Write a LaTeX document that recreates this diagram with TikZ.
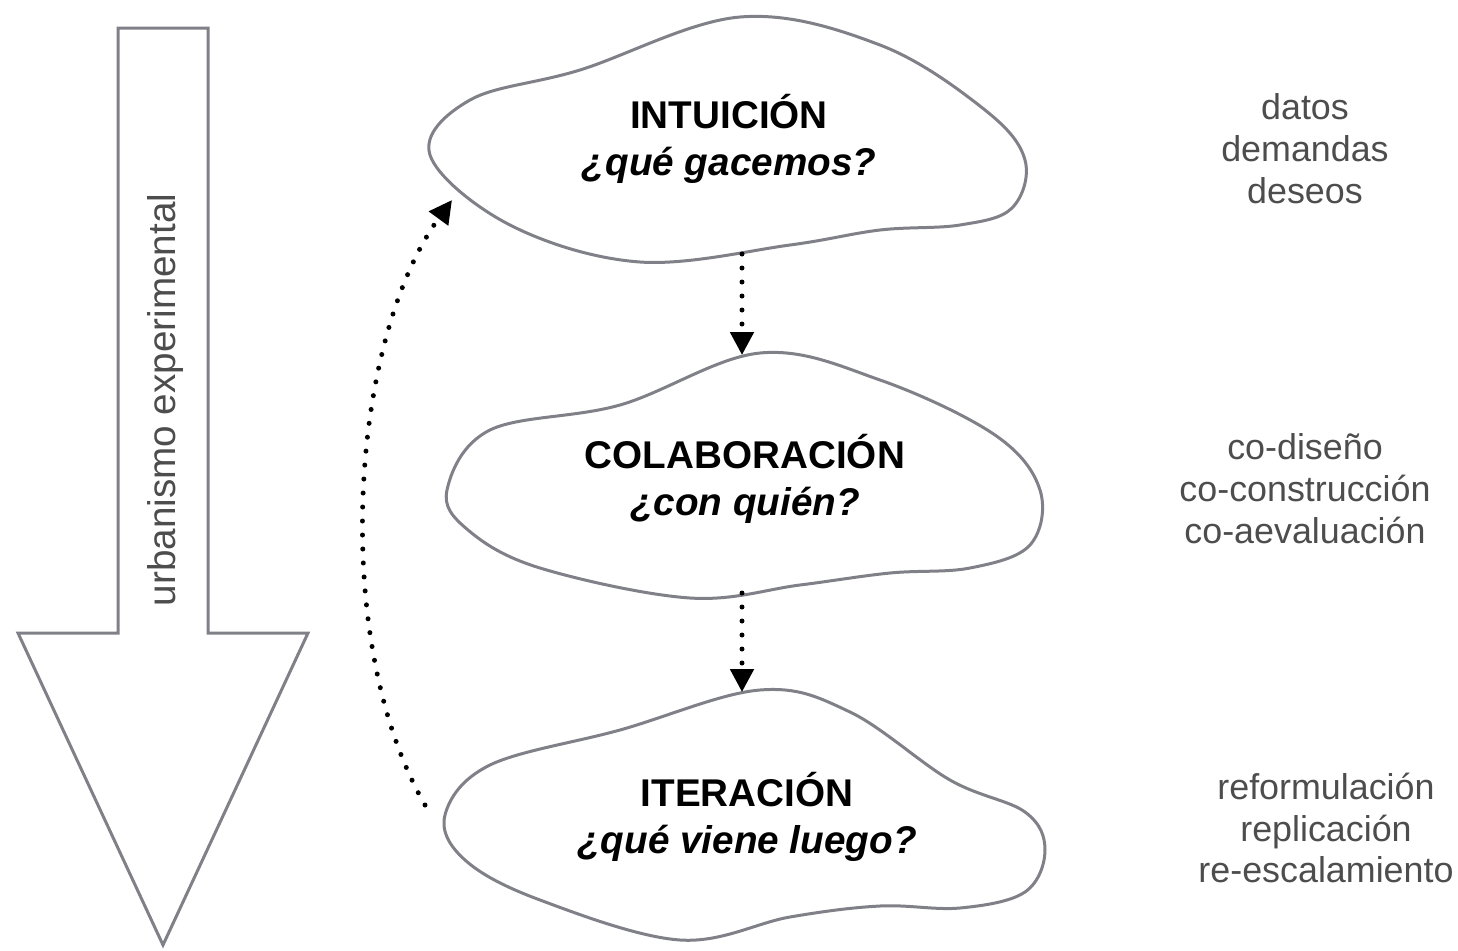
\documentclass[tikz,border=0pt]{standalone}
\usepackage{fontspec}
\setmainfont{Liberation Sans}
\usetikzlibrary{arrows.meta}
\definecolor{linegray}{HTML}{808088}
\definecolor{notegray}{HTML}{4D4D4D}
\tikzset{
cloud/.style={draw=linegray, line width=0.3mm, fill=white}, bigarrow/.style={draw=linegray, line width=0.3mm, fill=white, line join=miter},
stage/.style={align=center, inner sep=0, font=\fontsize{11}{13.4}\selectfont}, note/.style={align=center, inner sep=0, text=notegray, font=\fontsize{10.2}{11.9}\selectfont},
flow/.style={dash pattern=on 0pt off 1.4mm, line cap=round, line width=0.5mm, -{Triangle[length=2.3mm, width=2.3mm]}}}

\begin{document}
\begin{tikzpicture}[x=0.1mm, y=-0.1mm]
\useasboundingbox (0,0) rectangle (1458,951);
\draw [bigarrow] (118,28) -- (208,28) -- (208,633) -- (308,633) -- (163,945) -- (18,633) -- (118,633) -- cycle;
\node [note, rotate=90, font=\fontsize{11}{13}\selectfont] (urbanismo) at (166,400) {urbanismo experimental};
% clouds
\draw [cloud] plot [smooth cycle, tension=0.6] coordinates {(430,155) (470,100) (580,70) (740,17) (880,45) (985,110) (1025,160) (1012,208) (960,225) (880,230) (790,245) (640,262) (510,225)};
\draw [cloud] plot [smooth cycle, tension=0.6] coordinates {(447,490) (490,430) (620,405) (760,353) (880,380) (995,435) (1040,490) (1030,545) (970,568) (890,573) (800,585) (690,598) (540,568) (468,530)};
\draw [cloud] plot [smooth cycle, tension=0.6] coordinates {(445,815) (490,765) (620,730) (760,690) (850,712) (950,780) (1025,812) (1045,850) (1025,892) (960,908) (880,906) (790,917) (680,940) (540,900) (465,860)};
\node [stage] (intuicion) at (729,139) {\textbf{INTUICIÓN}\\\textbf{\textit{¿qué gacemos?}}};
\node [stage] (colaboracion) at (745,479) {\textbf{COLABORACIÓN}\\\textbf{\textit{¿con quién?}}};
\node [stage] (iteracion) at (747,817) {\textbf{ITERACIÓN}\\\textbf{\textit{¿qué viene luego?}}};
\node [note] (datos) at (1305,149) {datos\\demandas\\deseos};
\node [note] (codiseno) at (1305,489) {co-diseño\\co-construcción\\co-aevaluación};
\node [note] (reform) at (1326,828) {reformulación\\replicación\\re-escalamiento};
\coordinate (intuicion-s) at (742,254);
\coordinate (intuicion-w) at (452,200);
\coordinate (colaboracion-n) at (742,355);
\coordinate (colaboracion-s) at (742,593);
\coordinate (iteracion-n) at (742,692);
\coordinate (iteracion-w) at (425,805);
\draw [flow] (intuicion-s) -- (colaboracion-n);
\draw [flow] (colaboracion-s) -- (iteracion-n);
\draw [flow] (iteracion-w) .. controls (330,640) and (350,340) .. (intuicion-w);
\end{tikzpicture}
\end{document}
